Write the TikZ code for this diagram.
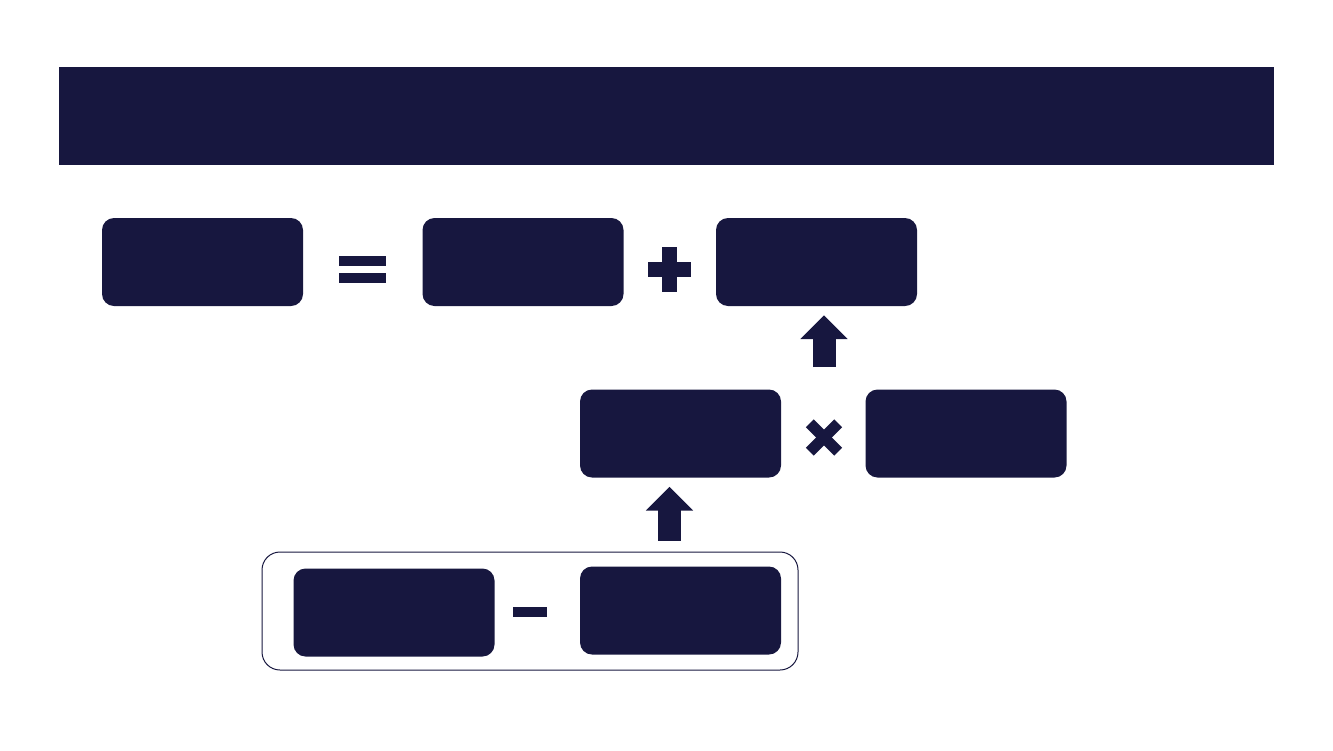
\documentclass[tikz,border=0pt]{standalone}
\usepackage{xcolor}
\usepackage{tikz}
\usetikzlibrary{arrows.meta, calc}
\definecolor{navy}{RGB}{23,23,63}

\begin{document}
\begin{tikzpicture}[x=1pt, y=-1pt,
	termbox/.style={rectangle, fill=navy, rounded corners=12pt, minimum width=201pt, minimum height=88pt, inner sep=0pt},
	groupbox/.style={rectangle, draw=navy, line width=1pt, rounded corners=18pt, minimum width=536pt, minimum height=118pt, inner sep=0pt},
	blockarrow/.style={navy, line width=23pt, -{Triangle[length=24pt, width=46pt]}}]
	\useasboundingbox (0,0) rectangle (1333,750);
	
	% Title bar
	\fill[navy] (59,67) rectangle (1274,165);
	
	% Top row
	\node[termbox] (total) at (202.5,262) {};
	\node[termbox] (first) at (523,262) {};
	\node[termbox] (second) at (816.5,262) {};
	
	% Middle row
	\node[termbox] (factor) at (680.5,433.5) {};
	\node[termbox] (rate) at (966,433.5) {};
	
	% Bottom row, grouped
	\node[groupbox] (group) at (530,611) {};
	\node[termbox] (minuend) at (394,612.5) {};
	\node[termbox] (subtrahend) at (680.5,610.5) {};
	
	% Operator signs
	\coordinate (eq) at (362.5,269.5);
	\fill[navy] ($(eq)+(-23.5,-13.5)$) rectangle ($(eq)+(23.5,-3.5)$);
	\fill[navy] ($(eq)+(-23.5,3.5)$) rectangle ($(eq)+(23.5,13.5)$);
	
	\coordinate (plus) at (669.5,269.5);
	\fill[navy] ($(plus)+(-7.5,-22.5)$) rectangle ($(plus)+(7.5,22.5)$);
	\fill[navy] ($(plus)+(-21.5,-7.5)$) rectangle ($(plus)+(21.5,7.5)$);
	
	\coordinate (times) at (824,437.5);
	\fill[navy, rotate around={45:(times)}] ($(times)+(-20,-5.5)$) rectangle ($(times)+(20,5.5)$);
	\fill[navy, rotate around={-45:(times)}] ($(times)+(-20,-5.5)$) rectangle ($(times)+(20,5.5)$);
	
	\coordinate (minus) at (530,612);
	\fill[navy] ($(minus)+(-17,-5)$) rectangle ($(minus)+(17,5)$);
	
	% Block arrows
	\draw[blockarrow] ([yshift=70.5pt]times) -- ([yshift=-9pt]second.south -| times);
	\draw[blockarrow] ([xshift=139.5pt, yshift=11pt]group.north) -- ([yshift=-9pt]factor.south -| {$(group.north)+(139.5,0)$});
\end{tikzpicture}
\end{document}
